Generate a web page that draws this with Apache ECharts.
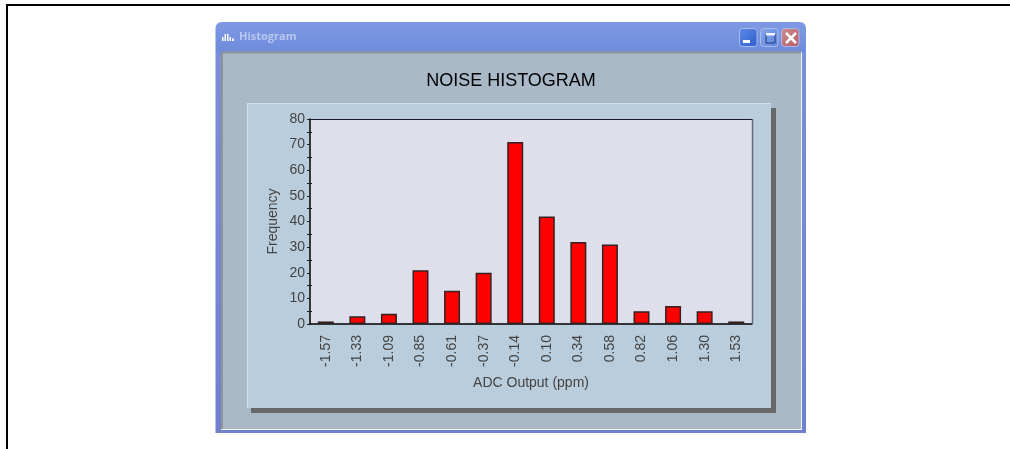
<!DOCTYPE html>
<html>
<head>
<meta charset="utf-8">
<style>
  html, body { margin: 0; padding: 0; background: #fff; }
  #chart { width: 1010px; height: 449px; }
</style>
<script src="https://cdn.jsdelivr.net/npm/echarts@6/dist/echarts.min.js"></script>
</head>
<body>
<div id="chart"></div>
<script>
const categories = ['-1.57', '-1.33', '-1.09', '-0.85', '-0.61', '-0.37', '-0.14', '0.10', '0.34', '0.58', '0.82', '1.06', '1.30', '1.53'];
const frequency = [1, 3, 4, 21, 13, 20, 71, 42, 32, 31, 5, 7, 5, 1];
const yMax = 80;
const yStep = 10;

const font = '"Liberation Sans", Arial, sans-serif';

// window frame and panel, drawn behind the grid
function box(x, y, width, height, fill, z) {
  return { type: 'rect', silent: true, z: z, shape: { x, y, width, height }, style: { fill } };
}
function line(x1, y1, x2, y2, stroke, lineWidth, z) {
  return { type: 'line', silent: true, z: z, shape: { x1, y1, x2, y2 }, style: { stroke, lineWidth } };
}
function winButton(x, c1, c2) {
  return {
    type: 'rect', silent: true, z: -5,
    shape: { x, y: 28.5, width: 17.5, height: 18, r: 3 },
    style: {
      stroke: '#a9bbea', lineWidth: 1,
      fill: new echarts.graphic.LinearGradient(0, 0, 1, 1, [
        { offset: 0, color: c1 }, { offset: 1, color: c2 }
      ])
    }
  };
}

const chrome = [
  // page border, top and left only
  box(6, 4, 1004, 2, '#000', -10),
  box(6, 4, 2, 445, '#000', -10),
  // window
  { type: 'rect', silent: true, z: -9, shape: { x: 215.5, y: 22, width: 590.5, height: 411, r: [6, 6, 0, 0] },
    style: { fill: new echarts.graphic.LinearGradient(0, 0, 0, 1, [
      { offset: 0, color: '#7f99e4' }, { offset: 0.07, color: '#6f8cdc' }, { offset: 0.08, color: '#7a8fd8' }, { offset: 1, color: '#6f80cc' }
    ]) } },
  box(221, 52, 581, 378, '#f2f5f8', -8),
  box(221, 52, 580, 377, '#a9b9c7', -7),
  line(221, 52.5, 801, 52.5, '#8f9498', 2, -6),
  line(222, 52, 222, 429, '#8f9498', 2, -6),
  // shadow of the panel
  box(251, 108, 525, 305, '#686868', -6),
  // panel
  box(247, 103, 524, 305, '#bacddc', -5),
  line(247, 103.5, 771, 103.5, '#d3e0e8', 1, -4),
  line(247.5, 103, 247.5, 408, '#d3e0e8', 1, -4),
  // title bar icon
  box(222, 37, 1.5, 4, '#fff', -4),
  box(224.5, 34, 1.5, 7, '#fff', -4),
  box(227, 34, 1.5, 7, '#fff', -4),
  box(229.5, 37, 1.5, 4, '#fff', -4),
  box(232, 38.5, 2, 2.5, '#fff', -4),
  // title bar buttons
  winButton(739.5, '#5f8cea', '#2f5cc8'),
  winButton(760.5, '#86a5ec', '#5f86dc'),
  winButton(781.5, '#cf8c94', '#b45a60'),
  box(743, 40, 7, 3, '#fff', -4),
  { type: 'rect', silent: true, z: -4, shape: { x: 766, y: 34, width: 9, height: 9 },
    style: { fill: 'none', stroke: '#223a80', lineWidth: 1 } },
  box(766, 33, 9, 2.5, '#f2f5ff', -4),
  line(786, 33, 796, 43, '#fff', 2.5, -4),
  line(796, 33, 786, 43, '#fff', 2.5, -4),
  // plot edges on top and right
  line(310, 119.5, 752, 119.5, '#1a1a2a', 1, 5),
  line(752.5, 119, 752.5, 324, '#666a78', 1.5, 5)
];

const chart = echarts.init(document.getElementById('chart'), null, { renderer: 'canvas' });
chart.setOption({
  animation: false,
  backgroundColor: '#fff',
  textStyle: { fontFamily: font },
  title: [
    {
      text: 'NOISE HISTOGRAM', left: 511, top: 72, padding: 0, textAlign: 'center',
      textStyle: { fontFamily: font, fontSize: 18, fontWeight: 'normal', color: '#000' }
    },
    {
      text: 'Histogram', left: 239, top: 31, padding: 0,
      textStyle: { fontFamily: '"Open Sans", sans-serif', fontSize: 11, fontWeight: 'bold', color: '#b9c8ee' }
    }
  ],
  graphic: { elements: chrome },
  grid: {
    left: 310, top: 119, width: 442, height: 205,
    show: true, backgroundColor: '#dfdfec', borderWidth: 0
  },
  xAxis: {
    type: 'category',
    data: categories,
    name: 'ADC Output (ppm)',
    nameLocation: 'middle',
    nameGap: 52,
    nameTextStyle: { fontFamily: font, fontSize: 14, color: '#444' },
    axisLine: { lineStyle: { color: '#000', width: 1.5 } },
    axisTick: { alignWithLabel: true, length: 4, lineStyle: { color: '#222' } },
    axisLabel: { rotate: 90, interval: 0, fontFamily: font, fontSize: 14, color: '#444', margin: 11 }
  },
  yAxis: [
    {
      type: 'value',
      min: 0,
      max: yMax,
      interval: yStep,
      name: 'Frequency',
      nameLocation: 'middle',
      nameGap: 30,
      nameTextStyle: { fontFamily: font, fontSize: 14, color: '#444' },
      axisLine: { show: true, lineStyle: { color: '#000', width: 1.5 } },
      axisTick: { show: true, length: 3, lineStyle: { color: '#222' } },
      minorTick: { show: true, splitNumber: 2, length: 3, lineStyle: { color: '#222' } },
      splitLine: { show: false },
      axisLabel: { fontFamily: font, fontSize: 14, color: '#444', margin: 5, padding: [3, 0, 0, 0] }
    },
    {
      // same scale, only for the inner half of the minor ticks
      type: 'value',
      position: 'left',
      min: 0,
      max: yMax,
      interval: yStep,
      axisLine: { show: false },
      axisLabel: { show: false },
      splitLine: { show: false },
      axisTick: { show: false, inside: true },
      minorTick: { show: true, splitNumber: 2, length: 2, lineStyle: { color: '#222' } }
    }
  ],
  series: [{
    type: 'bar',
    data: frequency,
    barWidth: 16,
    itemStyle: { color: '#ff0000', borderColor: '#332222', borderWidth: 1.5 }
  }]
});
</script>
</body>
</html>
